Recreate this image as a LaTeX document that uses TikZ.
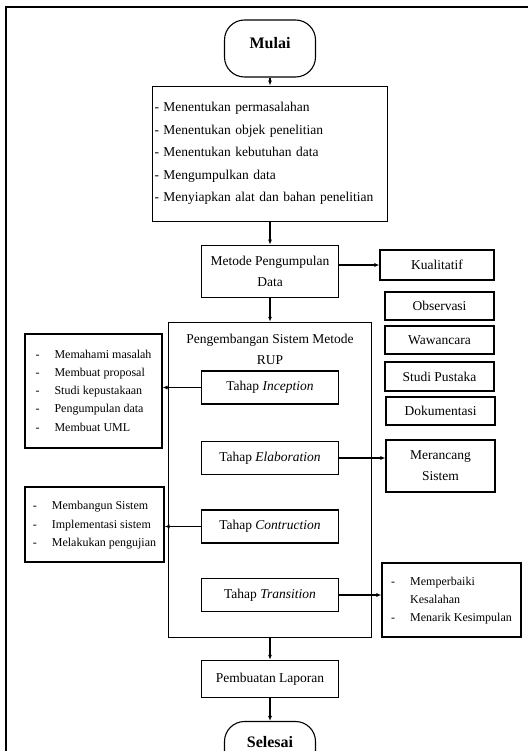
\documentclass[tikz,border=0pt]{standalone}
\usepackage{fontspec}
\setmainfont{Liberation Serif}
\usetikzlibrary{positioning,arrows.meta}

\begin{document}
\begin{tikzpicture}[x=1pt, y=-1pt, line width=1.1pt,
    kotak/.style = {draw, rectangle, inner sep=2pt, align=center, font=\fontsize{13.5}{21}\selectfont},
    tahap/.style = {kotak, minimum width=137pt, minimum height=33pt},
    metodebox/.style = {kotak, minimum width=109pt, minimum height=28pt},
    daftar/.style = {draw, rectangle, inner sep=2pt, font=\fontsize{12}{18.3}\selectfont},
    ujung/.style = {draw, rectangle, rounded corners=20pt, minimum width=91pt, minimum height=57pt, font=\fontsize{16}{19}\selectfont\bfseries},
    panah/.style = {-{Latex[length=5pt,width=4pt]}}]
    \useasboundingbox (0,0) rectangle (528,751);
    \draw[line width=1.8pt] (528,7) -- (6,7) -- (6,751);

    \node[ujung, text depth=11pt] (mulai) at (270,48.5) {Mulai};
    \node[kotak, align=left, text width=231pt, minimum height=135pt, font=\fontsize{13.5}{22.5}\selectfont, below=8pt of mulai] (langkah)
        {- Menentukan permasalahan\\- Menentukan objek penelitian\\- Menentukan kebutuhan data\\- Mengumpulkan data\\- Menyiapkan alat dan bahan penelitian};
    \node[kotak, minimum width=137pt, minimum height=52pt, below=23pt of langkah] (metode) {Metode Pengumpulan\\Data};
    \node[kotak, minimum width=203pt, minimum height=315pt, below=24pt of metode] (rup) {};
    \node[kotak, draw=none, below=10pt of rup.north] (ruptitel) {Pengembangan Sistem Metode\\RUP};
    \node[tahap] (inception) at (270,387.5) {Tahap \textit{Inception}};
    \node[tahap] (elaboration) at (270,458) {Tahap \textit{Elaboration}};
    \node[tahap] (contruction) at (270,526.5) {Tahap \textit{Contruction}};
    \node[tahap] (transition) at (270,595) {Tahap \textit{Transition}};
    \node[kotak, minimum width=137pt, minimum height=37pt, below=22pt of rup] (laporan) {Pembuatan Laporan};
    \node[ujung, below=23pt of laporan, label={[font=\fontsize{16}{19}\selectfont\bfseries, yshift=-21pt, anchor=center]north:Selesai}] (selesai) {};

    % kanan
    \node[kotak, minimum width=114pt, minimum height=30pt] (kualitatif) at (437,265) {Kualitatif};
    \node[metodebox] (observasi) at (439.5,306) {Observasi};
    \node[metodebox] (wawancara) at (439.5,340) {Wawancara};
    \node[metodebox, minimum height=29pt] (studi) at (439.5,376.5) {Studi Pustaka};
    \node[metodebox] (dokumentasi) at (440.5,411) {Dokumentasi};
    \node[kotak, minimum width=109pt, minimum height=52pt] (merancang) at (440.5,466) {Merancang\\Sistem};
    \node[daftar, minimum width=139pt, minimum height=74pt] (akhir) at (451.5,600)
        {\begin{tabular}{@{}l@{\hspace{15pt}}l@{}}-&Memperbaiki\\&Kesalahan\\-&Menarik Kesimpulan\end{tabular}};

    % kiri
    \node[daftar, minimum width=137pt, minimum height=114pt] (awal) at (93.5,391)
        {\begin{tabular}{@{}l@{\hspace{15pt}}l@{}}-&Memahami masalah\\-&Membuat proposal\\-&Studi kepustakaan\\-&Pengumpulan data\\-&Membuat UML\end{tabular}};
    \node[daftar, minimum width=139pt, minimum height=75pt] (bangun) at (94.5,524.5)
        {\begin{tabular}{@{}l@{\hspace{15pt}}l@{}}-&Membangun Sistem\\-&Implementasi sistem\\-&Melakukan pengujian\end{tabular}};

    \path[panah]
    (mulai) edge (langkah)
    (langkah) edge (metode)
    (metode) edge (rup)
    (rup) edge (laporan)
    (laporan) edge (selesai)
    (metode.east |- kualitatif) edge (kualitatif)
    (inception) edge (inception -| awal.east)
    (elaboration) edge (elaboration -| merancang.west)
    (contruction) edge (contruction -| bangun.east)
    (transition) edge (transition -| akhir.west)
    ;
\end{tikzpicture}
\end{document}
